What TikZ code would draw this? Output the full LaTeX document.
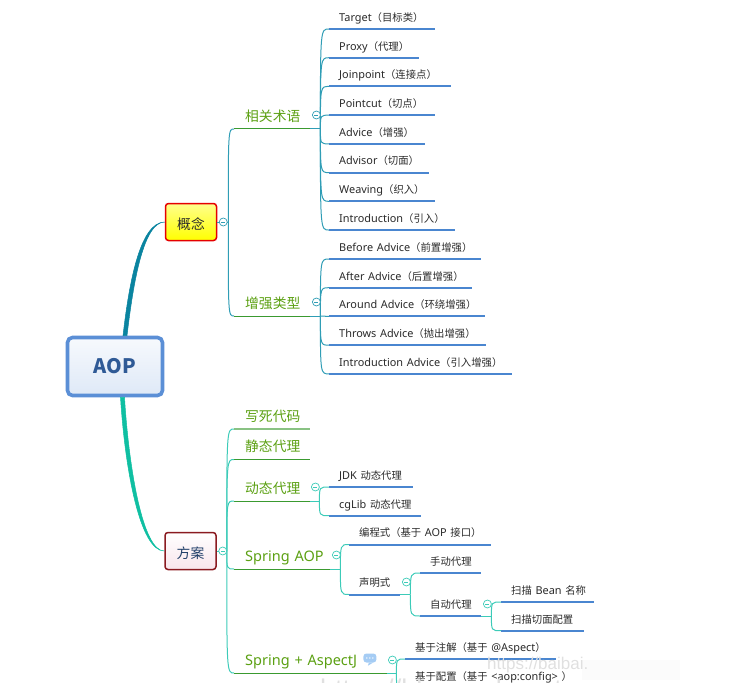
\documentclass[tikz,border=0pt]{standalone}
\usepackage{fontspec}
\setmainfont{Noto Sans}
\newfontfamily\cjk[Scale=0.95]{Noto Sans CJK SC}
\newfontfamily\markfont{Liberation Sans}
\newcommand{\cn}[1]{{\cjk #1}}
\usetikzlibrary{positioning}
\definecolor{aopBlue}{HTML}{5B8FD6}
\definecolor{aopText}{HTML}{2F5A96}
\definecolor{leafLine}{HTML}{4A86D0}
\definecolor{leafText}{HTML}{2A2A2A}
\definecolor{branchText}{HTML}{5BA012}
\definecolor{branchLine}{HTML}{3A9A30}
\definecolor{upperLink}{HTML}{2F9DB5}
\definecolor{upperMain}{HTML}{0A84A0}
\definecolor{lowerLink}{HTML}{3CCBB8}
\definecolor{lowerMain}{HTML}{0FBFA2}
\definecolor{schemeRed}{HTML}{8A1A20}
\definecolor{noteBlue}{HTML}{A5CCF4}
\tikzset{
  under/.style={below=28.72pt of #1.south west, anchor=south west},
  leaf/.style={text width=#1, inner xsep=0pt, inner ysep=7.5pt, text depth=0pt,
               anchor=south west, align=left, text=leafText,
               font=\fontsize{10.9}{14}\selectfont,
               execute at begin node=\hspace*{10pt}\hbox\bgroup,
               execute at end node=\egroup,
               append after command={(\tikzlastnode.south west)
                 edge[draw=leafLine, line width=2pt] (\tikzlastnode.south east)}},
  branch/.style={text width=#1, inner xsep=0pt, inner ysep=7.5pt, text depth=0pt,
               anchor=south west, align=left, text=branchText,
               font=\fontsize{14.5}{18}\selectfont,
               execute at begin node=\hspace*{11pt}\hbox\bgroup,
               execute at end node=\egroup,
               append after command={(\tikzlastnode.south west)
                 edge[draw=branchLine, line width=1pt] (\tikzlastnode.south east)}},
  upperlink/.style={draw=upperLink, line width=1pt},
  lowerlink/.style={draw=lowerLink, line width=1pt},
  fold/.style={circle, draw=#1, fill=white, line width=.7pt, minimum size=8pt, inner sep=0pt,
               path picture={\draw[#1, line width=.6pt]
                 ([xshift=-2pt]path picture bounding box.center) --
                 ([xshift=2pt]path picture bounding box.center);}},
  rootbox/.style={rectangle, rounded corners=5pt, draw=aopBlue, line width=3.6pt,
               top color=white!95!aopBlue, bottom color=aopBlue!20,
               minimum width=95pt, minimum height=58pt, text=aopText,
               font=\fontsize{21}{24}\selectfont\cjk\bfseries},
  mainbox/.style={rectangle, rounded corners=3pt, line width=1.5pt, text height=14pt, text depth=0pt,
               minimum width=51pt, minimum height=37pt, font=\fontsize{14.5}{18}\selectfont},
  watermark/.style={text=black!12, font=\markfont\fontsize{#1}{#1}\selectfont, inner sep=0pt, anchor=west},
}
\begin{document}
\begin{tikzpicture}[x=1pt, y=-1pt]
  \useasboundingbox (0,0) rectangle (746,695);

  \node[rootbox] (aop) at (115,366.5) {AOP};
  \node[mainbox, draw=red!90!black, top color=yellow!45, bottom color=yellow, text=leafText] (concept) at (191,222) {\cn{概念}};
  \node[mainbox, draw=schemeRed, top color=white, bottom color=blue!25!red!10, text=aopText!70!black] (scheme) at (190.5,551) {\cn{方案}};

  % upper half
  \node[branch=76pt] (term) at (234,129) {\cn{相关术语}};
  \node[branch=76pt] (enh) at (234,316) {\cn{增强类型}};

  \node[leaf=106pt] (t1) at (329,29) {Target\cn{（目标类）}};
  \node[leaf=90pt, under=t1] (t2) {Proxy\cn{（代理）}};
  \node[leaf=122pt, under=t2] (t3) {Joinpoint\cn{（连接点）}};
  \node[leaf=106pt, under=t3] (t4) {Pointcut\cn{（切点）}};
  \node[leaf=96pt, under=t4] (t5) {Advice\cn{（增强）}};
  \node[leaf=100pt, under=t5] (t6) {Advisor\cn{（切面）}};
  \node[leaf=106pt, under=t6] (t7) {Weaving\cn{（织入）}};
  \node[leaf=126pt, under=t7] (t8) {Introduction\cn{（引入）}};

  \node[leaf=152pt] (e1) at (329,259) {Before Advice\cn{（前置增强）}};
  \node[leaf=143pt, under=e1] (e2) {After Advice\cn{（后置增强）}};
  \node[leaf=156pt, under=e2] (e3) {Around Advice\cn{（环绕增强）}};
  \node[leaf=157pt, under=e3] (e4) {Throws Advice\cn{（抛出增强）}};
  \node[leaf=183pt, under=e4] (e5) {Introduction Advice\cn{（引入增强）}};

  \coordinate[right=11pt of concept.east] (conhub);
  \coordinate[right=10pt of term.south east] (termhub);
  \coordinate[right=10pt of enh.south east] (enhhub);

  \draw[upperlink] (concept.east) -- (conhub);
  \draw[upperlink] (conhub) .. controls (conhub |- term.south west) .. (term.south west);
  \draw[upperlink] (conhub) .. controls (conhub |- enh.south west) .. (enh.south west);
  \draw[upperlink] (term.south east) -- (termhub);
  \draw[upperlink] (enh.south east) -- (enhhub);
  \draw[upperlink] (termhub) .. controls (termhub |- t1.south west) .. (t1.south west);
  \draw[upperlink] (termhub) .. controls (termhub |- t2.south west) .. (t2.south west);
  \draw[upperlink] (termhub) .. controls (termhub |- t3.south west) .. (t3.south west);
  \draw[upperlink] (termhub) .. controls (termhub |- t4.south west) .. (t4.south west);
  \draw[upperlink] (termhub) .. controls (termhub |- t5.south west) .. (t5.south west);
  \draw[upperlink] (termhub) .. controls (termhub |- t6.south west) .. (t6.south west);
  \draw[upperlink] (termhub) .. controls (termhub |- t7.south west) .. (t7.south west);
  \draw[upperlink] (termhub) .. controls (termhub |- t8.south west) .. (t8.south west);
  \draw[upperlink] (enhhub) .. controls (enhhub |- e1.south west) .. (e1.south west);
  \draw[upperlink] (enhhub) .. controls (enhhub |- e2.south west) .. (e2.south west);
  \draw[upperlink] (enhhub) -- (e3.south west);
  \draw[upperlink] (enhhub) .. controls (enhhub |- e4.south west) .. (e4.south west);
  \draw[upperlink] (enhhub) .. controls (enhhub |- e5.south west) .. (e5.south west);

  % lower half
  \node[branch=76pt] (hard) at (234,429) {\cn{写死代码}};
  \node[branch=76pt] (static) at (234,459.5) {\cn{静态代理}};
  \node[branch=76pt] (dyn) at (234,501) {\cn{动态代理}};
  \node[branch=96pt] (spring) at (234,569) {Spring AOP};
  \node[branch=153pt] (aspectj) at (234,673) {Spring + AspectJ};
  \draw[draw=branchLine!60, line width=2pt] (hard.south west) -- (hard.south east);

  \node[leaf=84pt] (d1) at (329,487) {JDK \cn{动态代理}};
  \node[leaf=92pt, under=d1] (d2) {cgLib \cn{动态代理}};
  \node[leaf=142pt] (s1) at (349,544.5) {\cn{编程式（基于} AOP \cn{接口）}};
  \node[leaf=51pt] (s2) at (349,594.5) {\cn{声明式}};
  \node[leaf=61pt] (h1) at (420,573) {\cn{手动代理}};
  \node[leaf=61pt] (h2) at (420,616) {\cn{自动代理}};
  \node[leaf=93pt] (a1) at (501,602) {\cn{扫描} Bean \cn{名称}};
  \node[leaf=83pt, under=a1] (a2) {\cn{扫描切面配置}};
  \node[leaf=151pt] (j1) at (405,659) {\cn{基于注解（基于} @Aspect\cn{）}};
  \node[leaf=170pt, under=j1] (j2) {\cn{基于配置（基于} <aop:config> \cn{）}};

  \coordinate[right=10pt of scheme.east] (schub);
  \coordinate[right=9pt of dyn.south east] (dynhub);
  \coordinate[right=10pt of spring.south east] (sprhub);
  \coordinate[right=10pt of s2.south east] (s2hub);
  \coordinate[right=10pt of h2.south east] (h2hub);
  \coordinate[right=9pt of aspectj.south east] (asphub);

  \draw[lowerlink] (scheme.east) -- (schub);
  \draw[lowerlink] (schub) .. controls (schub |- hard.south west) .. (hard.south west);
  \draw[lowerlink] (schub) .. controls (schub |- static.south west) .. (static.south west);
  \draw[lowerlink] (schub) .. controls (schub |- dyn.south west) .. (dyn.south west);
  \draw[lowerlink] (schub) .. controls (schub |- spring.south west) .. (spring.south west);
  \draw[lowerlink] (schub) .. controls (schub |- aspectj.south west) .. (aspectj.south west);
  \draw[lowerlink] (dyn.south east) -- (dynhub);
  \draw[lowerlink] (dynhub) .. controls (dynhub |- d1.south west) .. (d1.south west);
  \draw[lowerlink] (dynhub) .. controls (dynhub |- d2.south west) .. (d2.south west);
  \draw[lowerlink] (spring.south east) -- (sprhub);
  \draw[lowerlink] (sprhub) .. controls (sprhub |- s1.south west) .. (s1.south west);
  \draw[lowerlink] (sprhub) .. controls (sprhub |- s2.south west) .. (s2.south west);
  \draw[lowerlink] (s2.south east) -- (s2hub);
  \draw[lowerlink] (s2hub) .. controls (s2hub |- h1.south west) .. (h1.south west);
  \draw[lowerlink] (s2hub) .. controls (s2hub |- h2.south west) .. (h2.south west);
  \draw[lowerlink] (h2.south east) -- (h2hub);
  \draw[lowerlink] (h2hub) .. controls (h2hub |- a1.south west) .. (a1.south west);
  \draw[lowerlink] (h2hub) .. controls (h2hub |- a2.south west) .. (a2.south west);
  \draw[lowerlink] (aspectj.south east) -- (asphub);
  \draw[lowerlink] (asphub) .. controls (asphub |- j1.south west) .. (j1.south west);
  \draw[lowerlink] (asphub) .. controls (asphub |- j2.south west) .. (j2.south west);

  % main tapered links
  \filldraw[upperMain, line width=.5pt] ([xshift=8pt]aop.north) .. controls (129,283) and (140,222) .. (concept.west)
    .. controls (143,222) and (133,285) .. ([xshift=12pt]aop.north) -- cycle;
  \filldraw[lowerMain, line width=.5pt] ([xshift=5.5pt]aop.south) .. controls (125,470) and (140,551) .. (scheme.west)
    .. controls (143,551) and (129,470) .. ([xshift=9.5pt]aop.south) -- cycle;

  % fold marks
  \node[fold=upperLink] (fconcept) at ([xshift=6pt]concept.east) {};
  \node[fold=upperLink] (fterm) at ([xshift=6pt,yshift=14pt]term.south east) {};
  \node[fold=upperLink] (fenh) at ([xshift=6pt,yshift=14pt]enh.south east) {};
  \node[fold=lowerLink] (fscheme) at ([xshift=6pt]scheme.east) {};
  \node[fold=lowerLink] (fdyn) at ([xshift=5pt,yshift=14pt]dyn.south east) {};
  \node[fold=lowerLink] (fspring) at ([xshift=6pt,yshift=14pt]spring.south east) {};
  \node[fold=lowerLink] (fs2) at ([xshift=6pt,yshift=12.5pt]s2.south east) {};
  \node[fold=lowerLink] (fh2) at ([xshift=6pt,yshift=12pt]h2.south east) {};
  \node[fold=lowerLink] (fasp) at ([xshift=5pt,yshift=13pt]aspectj.south east) {};

  % note bubble
  \node[rectangle, rounded corners=3pt, fill=noteBlue, minimum width=13pt, minimum height=9pt, inner sep=0pt] (note)
    at ([xshift=-17.5pt,yshift=15pt]aspectj.south east) {};
  \fill[noteBlue] ([xshift=-1pt]note.south) -- ([xshift=3pt]note.south) -- ([xshift=-2pt,yshift=-3pt]note.south) -- cycle;
  \fill[white] ([xshift=-3pt]note.center) circle (.8pt) (note.center) circle (.8pt) ([xshift=3pt]note.center) circle (.8pt);

  % watermark and the cut at the bottom
  \fill[black!1.5] (582,660) rectangle (680,680);
  \node[watermark=17] (mark1) at (487,665) {https://baibai.};
  \node[watermark=27] (mark2) at (320,692) {https://blog.csdn.net};
  \fill[white] (0,683) rectangle (746,695);
\end{tikzpicture}
\end{document}
